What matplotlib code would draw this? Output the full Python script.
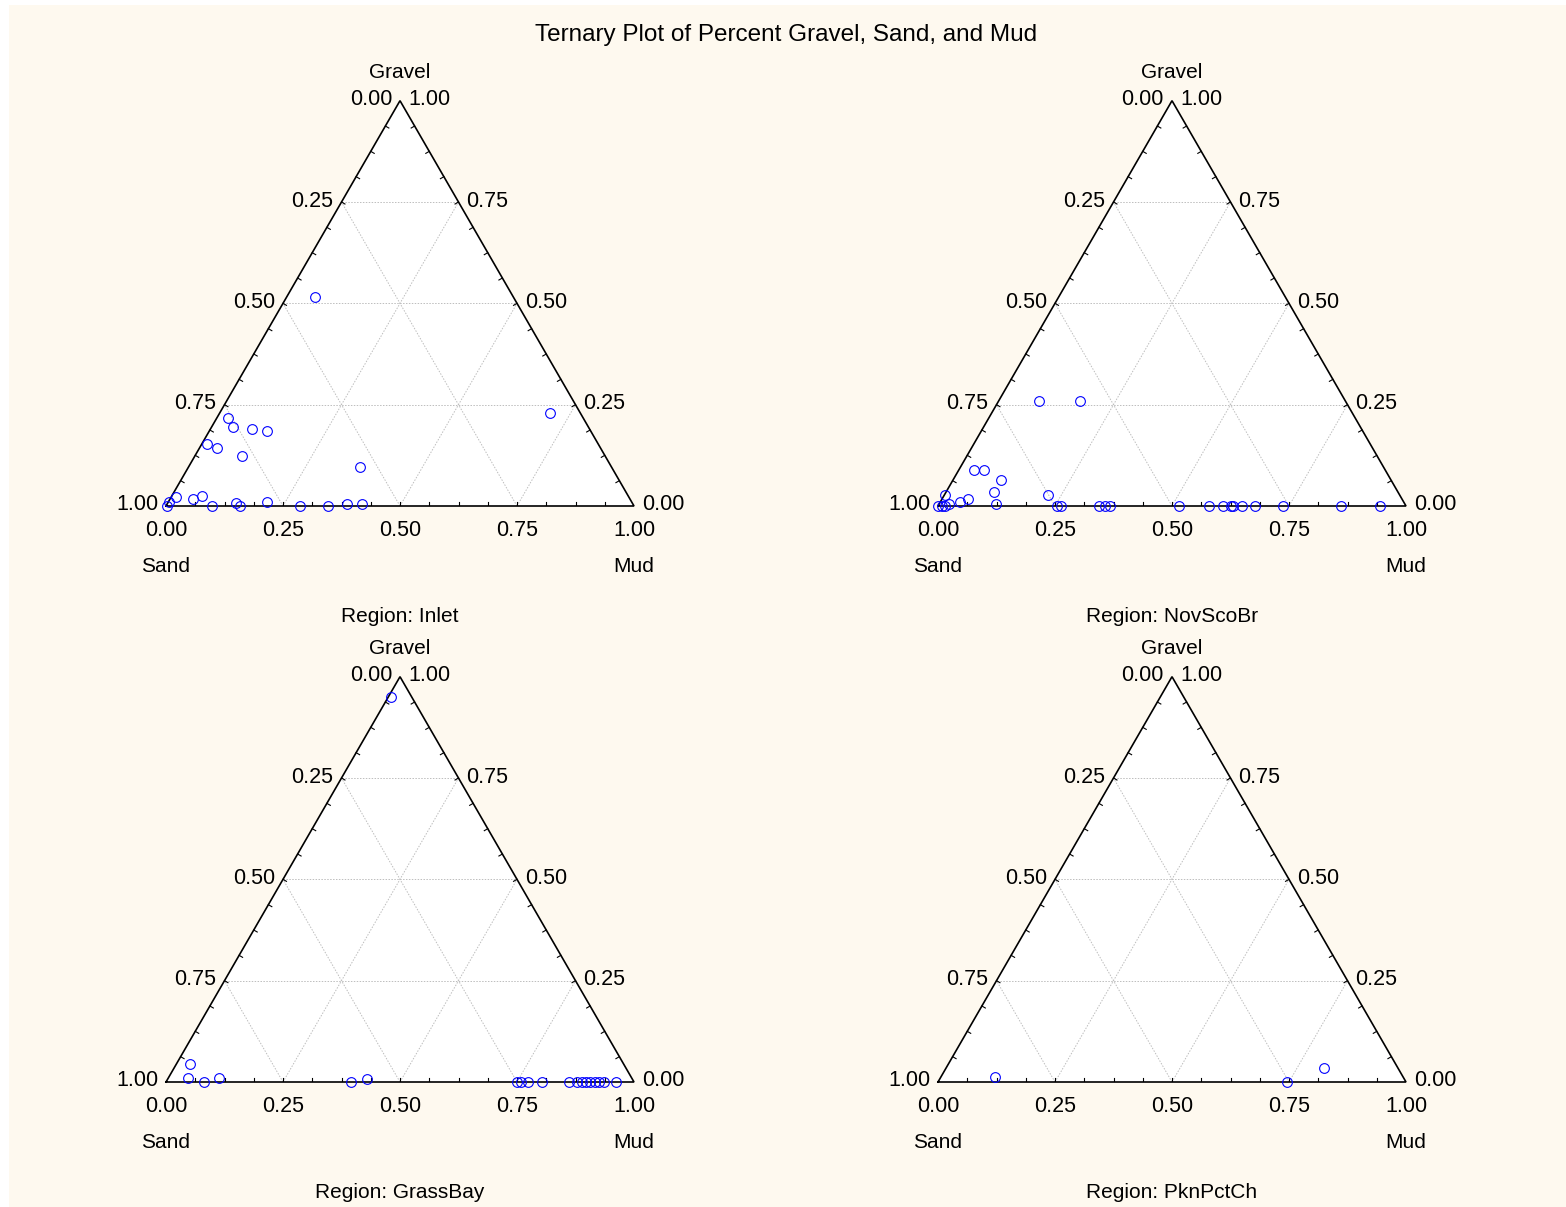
import numpy as np
import matplotlib
matplotlib.use("Agg")
import matplotlib.pyplot as plt
from matplotlib.patches import Rectangle, Polygon

plt.rcParams["font.family"] = ["Liberation Sans", "DejaVu Sans"]

# --------------------------------------------------
# Data: gravel and mud fractions per region (sand = 1 - gravel - mud)
# --------------------------------------------------

regions = ["Inlet", "NovScoBr", "GrassBay", "PknPctCh"]

inlet_gravel = [0.516, 0.230, 0.217, 0.195, 0.190, 0.186, 0.152, 0.144, 0.123, 0.097,
                0.000, 0.010, 0.021, 0.017, 0.025, 0.001, 0.007, 0.001, 0.010, 0.000,
                0.000, 0.006, 0.006]
inlet_mud = [0.060, 0.706, 0.023, 0.046, 0.088, 0.123, 0.012, 0.038, 0.100, 0.365,
             0.002, 0.002, 0.011, 0.050, 0.064, 0.098, 0.146, 0.158, 0.211, 0.287,
             0.346, 0.383, 0.415]

novsco_gravel = [0.258, 0.258, 0.089, 0.089, 0.064, 0.035, 0.026, 0.027, 0.018, 0.010,
                 0.005, 0.005, 0.000, 0.000, 0.000, 0.000, 0.000, 0.000, 0.000, 0.000,
                 0.000, 0.000, 0.000, 0.000, 0.000, 0.000, 0.000, 0.000, 0.000, 0.000]
novsco_mud = [0.086, 0.174, 0.032, 0.054, 0.103, 0.102, 0.221, 0.002, 0.056, 0.041,
              0.020, 0.121, 0.001, 0.009, 0.016, 0.255, 0.263, 0.344, 0.356, 0.368,
              0.514, 0.579, 0.609, 0.626, 0.631, 0.649, 0.678, 0.737, 0.861, 0.944]

grass_gravel = [0.951, 0.044, 0.011, 0.000, 0.011, 0.000, 0.007, 0.000, 0.000, 0.000,
                0.000, 0.000, 0.000, 0.000, 0.000, 0.000, 0.000, 0.000, 0.000, 0.000]
grass_mud = [0.005, 0.029, 0.042, 0.081, 0.108, 0.396, 0.425, 0.749, 0.758, 0.774,
             0.804, 0.862, 0.879, 0.888, 0.897, 0.906, 0.917, 0.926, 0.936, 0.962]

pkn_gravel = [0.012, 0.000, 0.035]
pkn_mud = [0.116, 0.746, 0.807]

gravel_data = [inlet_gravel, novsco_gravel, grass_gravel, pkn_gravel]
mud_data = [inlet_mud, novsco_mud, grass_mud, pkn_mud]

tick_values = [0.0, 0.25, 0.5, 0.75, 1.0]

# --------------------------------------------------
# Layout (pixels)
# --------------------------------------------------

W, H = 1566, 1207
SIDE = 468
H3 = np.sqrt(3) / 2
# left vertex of each triangle, pixels from top-left
origins = [(166, 506), (938, 506), (166, 1082), (938, 1082)]

fig = plt.figure(figsize=(W / 100, H / 100), dpi=100)
fig.patch.set_facecolor("white")
fig.patches.append(Rectangle((9 / W, 0), 1 - 9 / W, 1 - 5 / H,
                             transform=fig.transFigure, facecolor="#FEF9EF",
                             edgecolor="none", zorder=-10))

fig.text(786 / W, 1 - 35 / H, "Ternary Plot of Percent Gravel, Sand, and Mud",
         ha="center", va="center", fontsize=17.5)


def to_xy(g, m):
    g = np.asarray(g)
    m = np.asarray(m)
    return m + g / 2, g * H3


px = 1 / SIDE  # one pixel in data units
TICK_FS = 15.5
NAME_FS = 15

for name, g, m, (x0, y0) in zip(regions, gravel_data, mud_data, origins):
    ax = fig.add_axes([x0 / W, 1 - y0 / H, SIDE / W, SIDE * H3 / H])
    ax.set_xlim(0, 1)
    ax.set_ylim(0, H3)
    ax.axis("off")

    ax.add_patch(Polygon([(0, 0), (1, 0), (0.5, H3)], closed=True,
                         facecolor="white", edgecolor="none", zorder=0))

    # grid lines
    for v in [0.25, 0.5, 0.75]:
        # constant gravel
        ax.plot([v / 2, 1 - v / 2], [v * H3, v * H3], color="#BDBDBD",
                lw=0.7, ls=(0, (1.5, 1.5)), zorder=1)
        # constant mud (parallel to left side)
        ax.plot([v, v + (1 - v) / 2], [0, (1 - v) * H3], color="#BDBDBD",
                lw=0.7, ls=(0, (1.5, 1.5)), zorder=1)
        # constant sand (parallel to right side)
        ax.plot([1 - v, (1 - v) / 2], [0, (1 - v) * H3], color="#BDBDBD",
                lw=0.7, ls=(0, (1.5, 1.5)), zorder=1)

    # triangle outline
    ax.plot([0, 1, 0.5, 0], [0, 0, H3, 0], color="black", lw=1.2,
            zorder=3, clip_on=False, solid_joinstyle="miter")

    # small inward ticks every 1/16
    tl = 4 * px
    for t in np.arange(1, 16) / 16:
        ax.plot([t, t], [0, tl], color="black", lw=0.8, zorder=3)
        lx, ly = t / 2, t * H3
        ax.plot([lx, lx + tl * H3], [ly, ly - tl / 2], color="black", lw=0.8, zorder=3)
        rx, ry = 1 - t / 2, t * H3
        ax.plot([rx, rx - tl * H3], [ry, ry - tl / 2], color="black", lw=0.8, zorder=3)

    # tick labels
    for v in tick_values:
        # bottom (Mud)
        ax.text(v, -25 * px, f"{v:.2f}", ha="center", va="center",
                fontsize=TICK_FS, clip_on=False)
        # left side (Sand), 0 at top
        lx, ly = 0.5 - v / 2, (1 - v) * H3
        ax.text(lx - 8 * px, ly + 1 * px, f"{v:.2f}", ha="right", va="center",
                fontsize=TICK_FS, clip_on=False)
        # right side (Gravel), 0 at bottom
        rx, ry = 1 - v / 2, v * H3
        ax.text(rx + 8 * px, ry + 1 * px, f"{v:.2f}", ha="left", va="center",
                fontsize=TICK_FS, clip_on=False)

    ax.text(0.5, H3 + 28 * px, "Gravel", ha="center", va="center", fontsize=NAME_FS)
    ax.text(0, -60 * px, "Sand", ha="center", va="center", fontsize=NAME_FS)
    ax.text(1, -60 * px, "Mud", ha="center", va="center", fontsize=NAME_FS)
    ax.text(0.5, -110 * px, f"Region: {name}", ha="center", va="center",
            fontsize=NAME_FS)

    x, y = to_xy(g, m)
    ax.plot(x, y, ls="none", marker="o", ms=7, mfc="none", mec="#0000FF",
            mew=0.8, zorder=4, clip_on=False)

fig.savefig("out.png", dpi=100, facecolor=fig.get_facecolor())
